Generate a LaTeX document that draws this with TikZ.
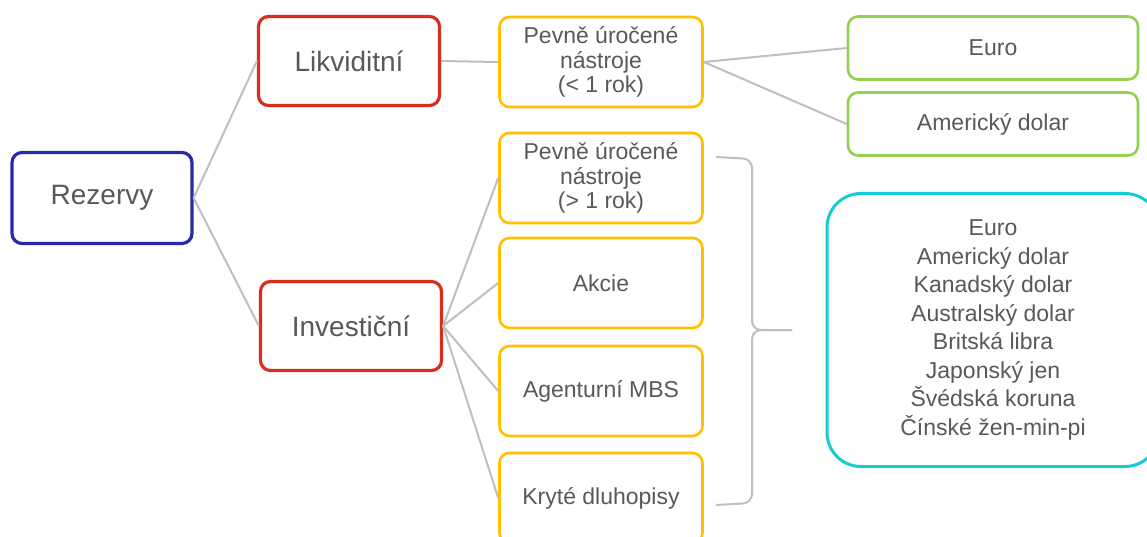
\documentclass[tikz,border=0pt]{standalone}
\usepackage{fontspec}
\setmainfont{Liberation Sans}
\usetikzlibrary{positioning}

\definecolor{txtgrey}{HTML}{595959}
\definecolor{linegrey}{HTML}{BFBFBF}
\definecolor{rootblue}{HTML}{2A2AA6}
\definecolor{catred}{HTML}{D92D20}
\definecolor{instyellow}{HTML}{FFC000}
\definecolor{curgreen}{HTML}{92D050}
\definecolor{curcyan}{HTML}{14CCD2}

\begin{document}
\begin{tikzpicture}[x=1pt,y=-1pt,
    box/.style={rounded corners=10pt,align=center,text=txtgrey,inner sep=0pt},
    rootbox/.style={box,draw=rootblue,line width=3.2pt,minimum width=180pt,minimum height=91pt,font=\fontsize{28}{32}\selectfont},
    catbox/.style={box,draw=catred,line width=3.2pt,minimum width=181pt,minimum height=89pt,font=\fontsize{28}{32}\selectfont},
    instbox/.style={box,draw=instyellow,line width=2.6pt,minimum width=203pt,minimum height=90pt,font=\fontsize{23}{24.5}\selectfont},
    curbox/.style={box,draw=curgreen,line width=2.6pt,minimum width=290pt,minimum height=63pt,font=\fontsize{23}{26}\selectfont},
    link/.style={draw=linegrey,line width=2pt}]
    \clip (0,0) rectangle (1147,537);
    \fill[white] (0,0) rectangle (1147,537);

    % levels of the tree
    \node[rootbox] (rez) at (102,198) {Rezervy};
    \node[catbox] (lik) at (349,61) {Likviditní};
    \node[catbox] (inv) at (351,326) {Investiční};

    \node[instbox] (kratke) at (601,62) {Pevně úročené\\nástroje\\ (< 1 rok)};
    \node[instbox] (dlouhe) at (601,178) {Pevně úročené\\nástroje\\(> 1 rok)};
    \node[instbox] (akcie) at (601,283) {Akcie};
    \node[instbox] (mbs) at (601,391) {Agenturní MBS};
    \node[instbox] (kryte) at (601,498) {Kryté dluhopisy};

    \node[curbox] (eur) at (993,48) {Euro};
    \node[curbox] (usd) at (993,124) {Americký dolar};

    \node[box,draw=curcyan,line width=3pt,rounded corners=34pt,minimum width=332pt,minimum height=273pt,
          font=\fontsize{23}{28.5}\selectfont] (meny) at (993,330)
      {Euro\\Americký dolar\\Kanadský dolar\\Australský dolar\\Britská libra\\Japonský jen\\Švédská koruna\\Čínské žen-min-pi};

    % connectors
    \draw[link] (rez.east) -- (lik.west);
    \draw[link] (rez.east) -- (inv.west);
    \draw[link] (lik.east) -- (kratke.west);
    \draw[link] (kratke.east) -- (eur.west);
    \draw[link] (kratke.east) -- (usd.west);
    \foreach \n in {dlouhe,akcie,mbs,kryte} {
      \draw[link] (inv.east) -- (\n.west);
    }

    % brace
    \coordinate (tip) at (792,330);
    \draw[link,rounded corners=9pt] (716,157) -- (752,159) -- (752,330) -- (tip);
    \draw[link,rounded corners=9pt] (tip) -- (752,330) -- (752,503) -- (716,505);
\end{tikzpicture}
\end{document}
